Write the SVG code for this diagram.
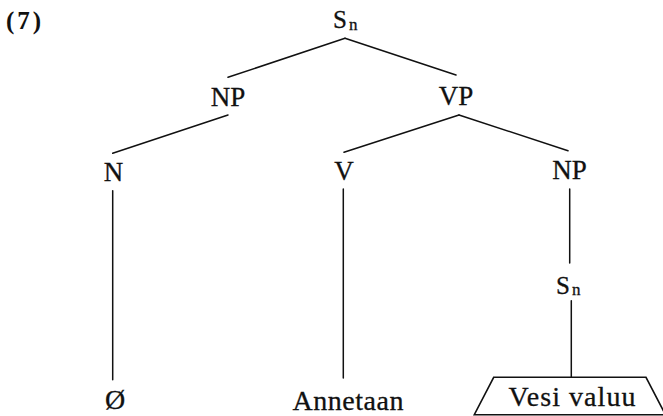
<svg xmlns="http://www.w3.org/2000/svg" width="663" height="416" viewBox="0 0 663 416">
  <style>
    text { font-family: "Liberation Serif", "DejaVu Serif", serif; fill: #111; stroke: #111; stroke-width: 0.3; }
    .lbl { font-size: 27px; text-anchor: middle; }
    .big { font-size: 28px; }
    .s { font-size: 25px; }
    .sub { font-size: 17px; }
    .num { font-size: 25px; font-weight: bold; letter-spacing: 3px; stroke-width: 0; }
    .edge { stroke: #111; stroke-width: 1.5; fill: none; stroke-linecap: round; }
  </style>
  <rect width="663" height="416" fill="#ffffff"/>
  <g id="example-number">
    <text class="num" x="6" y="29">(7)</text>
  </g>
  <g id="connectors">
    <line class="edge" x1="345" y1="38.3" x2="228" y2="77.3"/>
    <line class="edge" x1="345" y1="38.3" x2="456" y2="75"/>
    <line class="edge" x1="228" y1="115" x2="112.7" y2="153.3"/>
    <line class="edge" x1="459" y1="115" x2="344" y2="152.3"/>
    <line class="edge" x1="459" y1="115" x2="568" y2="150.7"/>
    <line class="edge" x1="112.7" y1="190.7" x2="112.7" y2="379.7"/>
    <line class="edge" x1="343.3" y1="189" x2="343.3" y2="378"/>
    <line class="edge" x1="569.7" y1="189" x2="569.7" y2="263"/>
    <line class="edge" x1="571.3" y1="300.7" x2="571.3" y2="377.3"/>
  </g>
  <g id="node-Sn-top">
    <text class="s" x="333" y="28">S</text>
    <text class="sub" x="349" y="30">n</text>
  </g>
  <g id="node-NP-1">
    <text class="lbl" x="228" y="106">NP</text>
  </g>
  <g id="node-VP">
    <text class="lbl" x="456" y="105">VP</text>
  </g>
  <g id="node-N">
    <text class="lbl" x="113.5" y="181">N</text>
  </g>
  <g id="node-V">
    <text class="lbl" x="344" y="179.5">V</text>
  </g>
  <g id="node-NP-2">
    <text class="lbl" x="569.5" y="178.5">NP</text>
  </g>
  <g id="node-Sn-lower">
    <text class="s" x="556" y="294">S</text>
    <text class="sub" x="572" y="295">n</text>
  </g>
  <g id="node-empty">
    <text class="lbl big" x="115" y="409">Ø</text>
  </g>
  <g id="node-Annetaan">
    <text class="lbl big" x="348" y="409.5" textLength="111" lengthAdjust="spacing">Annetaan</text>
  </g>
  <g id="node-Vesi-valuu">
    <polygon points="493.7,377.3 646,377.3 665.4,414.7 474.3,414.7" fill="none" stroke="#111" stroke-width="1.6" stroke-linejoin="miter"/>
    <text class="lbl big" x="572" y="406" textLength="127" lengthAdjust="spacing">Vesi valuu</text>
  </g>
</svg>
